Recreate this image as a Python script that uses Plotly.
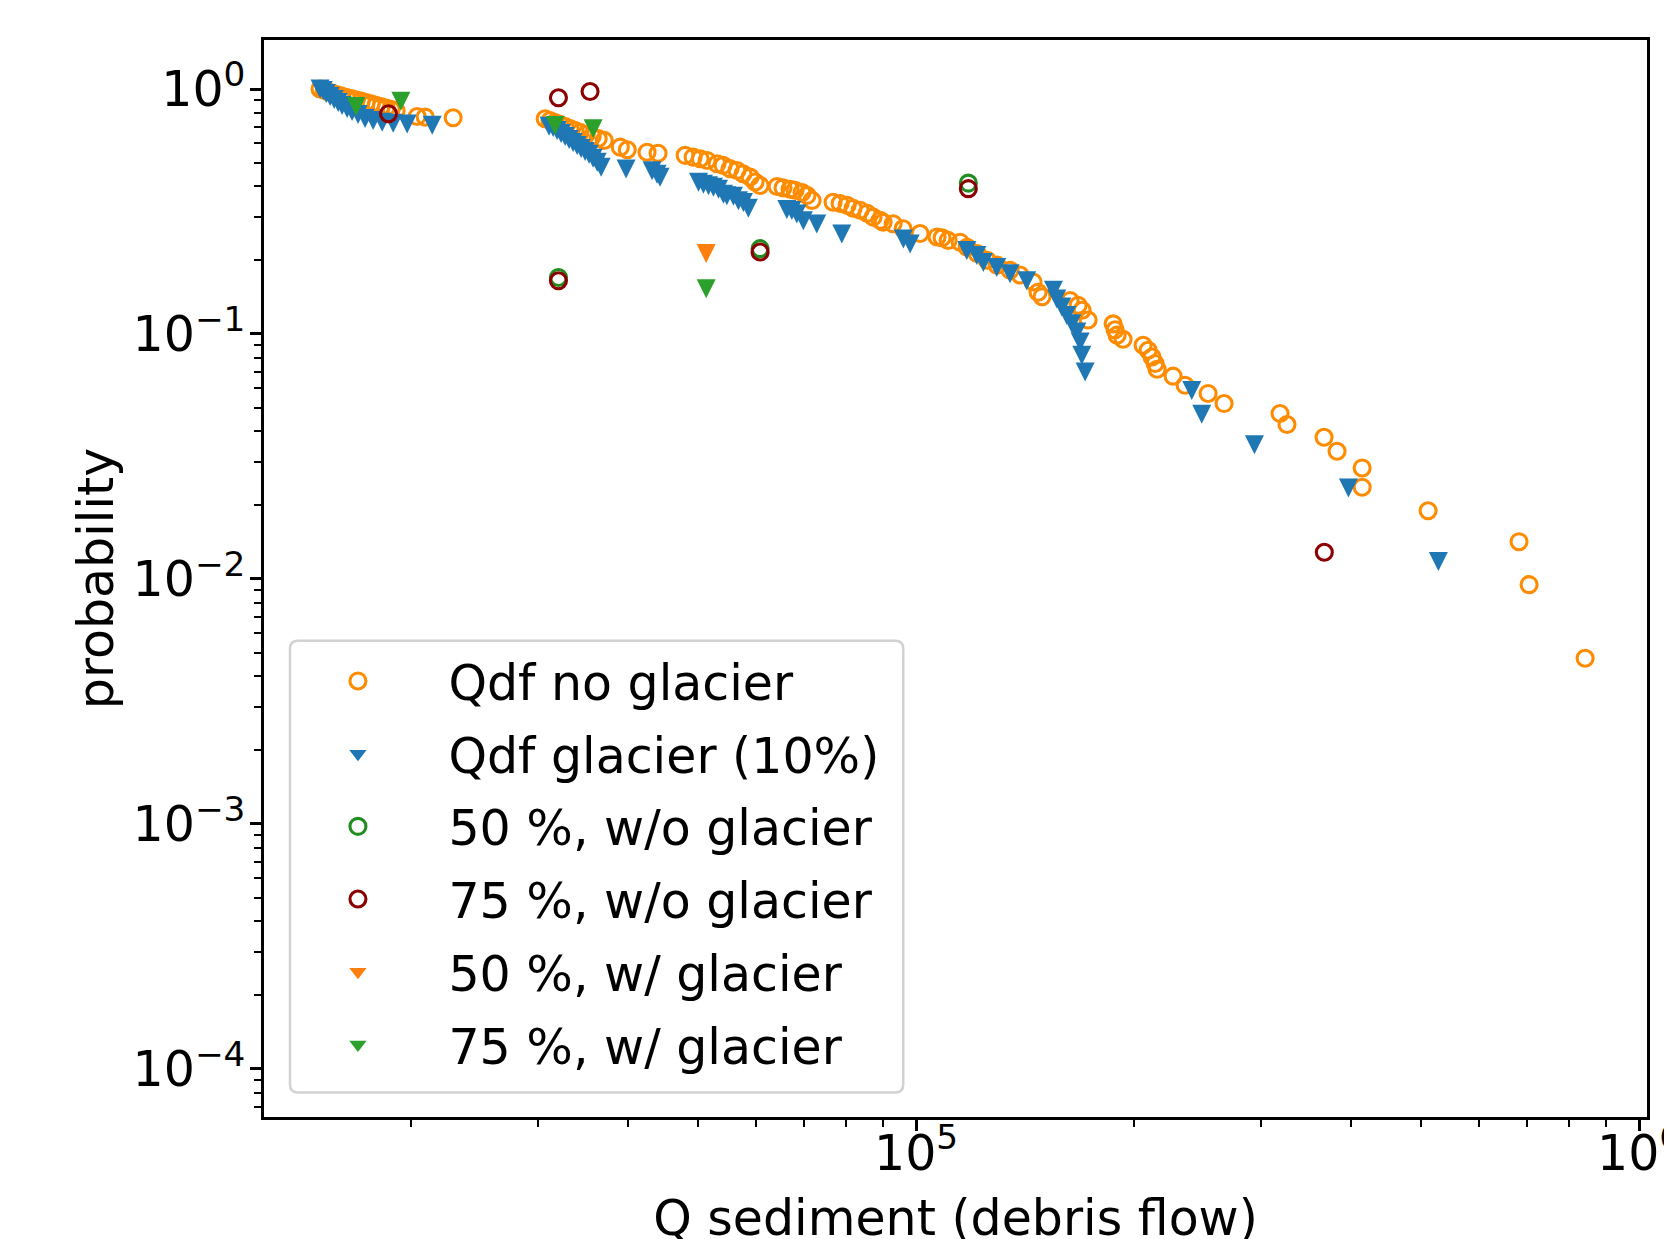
import plotly.graph_objects as go

# ---------------- data ----------------
# Qdf no glacier (orange open circles)
noglac_q = [14980, 15180, 15370, 15570, 15770, 16020, 16280, 16540, 16800, 17080,
            17350, 17630, 17910, 18200, 18490, 18790, 19090, 20410, 20940, 22890,
            30680, 31170, 31670, 32180, 32700, 33220, 33760, 34300, 34960, 35640,
            36330, 37030, 38980, 39860, 42450, 43960, 47920, 49160, 50270, 51400,
            53050, 54080, 55290, 56530, 57630, 58930, 59880, 60840, 64220, 65460,
            66940, 68010, 69540, 70660, 71800, 76770, 78500, 80270, 81820, 83680,
            85550, 87200, 89170, 90030, 92940, 95940, 101280, 106910, 108630, 110740,
            115050, 117640, 121450, 125390, 129420, 134900, 139270, 145150, 147480, 149380,
            163310, 167530, 169670, 172950, 187300, 188470, 189670, 193330, 206060, 209360,
            212030, 214100, 215440, 226710, 235530, 253470, 266690, 318740, 325870, 366680,
            382180, 413990, 414000, 510760, 682340, 704550, 842180]
noglac_p = [1.000, 0.990, 0.975, 0.962, 0.950, 0.937, 0.926, 0.915, 0.904, 0.892,
            0.881, 0.870, 0.858, 0.847, 0.837, 0.826, 0.815, 0.772, 0.768, 0.763,
            0.756, 0.744, 0.730, 0.717, 0.703, 0.690, 0.677, 0.665, 0.652, 0.640,
            0.628, 0.617, 0.579, 0.565, 0.552, 0.547, 0.536, 0.527, 0.519, 0.511,
            0.495, 0.488, 0.473, 0.465, 0.451, 0.437, 0.417, 0.404, 0.400, 0.395,
            0.390, 0.386, 0.378, 0.368, 0.351, 0.345, 0.341, 0.335, 0.326, 0.320,
            0.311, 0.300, 0.291, 0.286, 0.282, 0.269, 0.257, 0.249, 0.247, 0.241,
            0.237, 0.226, 0.213, 0.200, 0.191, 0.182, 0.174, 0.163, 0.148, 0.142,
            0.137, 0.131, 0.125, 0.114, 0.110, 0.104, 0.0989, 0.0952, 0.0900, 0.0858,
            0.0806, 0.0758, 0.0718, 0.0673, 0.0618, 0.0572, 0.0520, 0.0474, 0.0427, 0.0379,
            0.0332, 0.0284, 0.0237, 0.0190, 0.0142, 0.00948, 0.00475]

# Qdf glacier (10%) (blue filled triangles)
glac_q = [14980, 15130, 15280, 15470, 15670, 15870, 16070, 16330, 16590, 16910,
          17290, 17740, 18260, 18910, 19770, 21410,
          31070, 31470, 31870, 32280, 32700, 33120, 33540, 33970, 34410, 34850,
          35290, 35750, 36210, 36670, 39700, 43130, 43820, 44240,
          50000, 50800, 51620, 52440, 53290, 54140, 54730, 55890, 56790, 57700,
          58610, 66250, 67310, 68390, 69830, 72880, 78930,
          96030, 98110, 117520, 121340, 123910, 129300, 134900, 142230, 154860, 156540,
          159060, 161610, 164230, 166860, 168600, 169530, 171320, 240580, 248400, 293760,
          396280, 527740]
glac_p = [1.000, 0.986, 0.959, 0.932, 0.906, 0.881, 0.857, 0.833, 0.810, 0.787,
          0.758, 0.744, 0.732, 0.725, 0.719, 0.712,
          0.705, 0.697, 0.677, 0.658, 0.640, 0.622, 0.605, 0.588, 0.572, 0.556,
          0.541, 0.521, 0.502, 0.479, 0.471, 0.464, 0.449, 0.436,
          0.416, 0.409, 0.403, 0.397, 0.390, 0.372, 0.367, 0.365, 0.350, 0.344,
          0.326, 0.322, 0.319, 0.309, 0.290, 0.281, 0.256,
          0.244, 0.233, 0.219, 0.209, 0.196, 0.187, 0.176, 0.165, 0.151, 0.139,
          0.129, 0.119, 0.110, 0.102, 0.0928, 0.0819, 0.0700, 0.0588, 0.0470, 0.0353,
          0.0235, 0.0118]

# 50 %, w/o glacier (green open circles)
p50_noglac_q = [32010, 60840, 118100]
p50_noglac_p = [0.170, 0.223, 0.413]

# 75 %, w/o glacier (dark red open circles)
p75_noglac_q = [18630, 32010, 35400, 32010, 60840, 118100, 367000]
p75_noglac_p = [0.792, 0.921, 0.977, 0.165, 0.216, 0.392, 0.01285]

# 50 %, w/ glacier (orange filled triangle)
p50_glac_q = [51240]
p50_glac_p = [0.213]

# 75 %, w/ glacier (green filled triangles)
p75_glac_q = [16800, 19380, 31670, 35750, 51240]
p75_glac_p = [0.848, 0.892, 0.710, 0.688, 0.153]

x_tick_vals = [1e5, 1e6]
x_tick_text = ["10<sup>5</sup>", "10<sup>6</sup>"]
y_tick_vals = [1e-4, 1e-3, 1e-2, 1e-1, 1e0]
y_tick_text = ["10<sup>\u22124</sup>", "10<sup>\u22123</sup>", "10<sup>\u22122</sup>",
               "10<sup>\u22121</sup>", "10<sup>0</sup>"]

# ---------------- figure ----------------
FONT = "DejaVu Sans"
FS = 49
CIRC = 16
CLW = 3.1
TRI = 19
PAD = "\u2002"   # visual gap between legend symbol and label (matplotlib-like)

fig = go.Figure()

def circles(x, y, name, color, grp):
    fig.add_trace(go.Scatter(
        x=x, y=y, mode="markers", name=PAD + name, legendgroup=grp,
        marker=dict(symbol="circle-open", size=CIRC, color=color,
                    line=dict(width=CLW, color=color))))

def triangles(x, y, name, color, grp):
    # legend entry (plain down-triangle, centred in the legend row)
    fig.add_trace(go.Scatter(
        x=[None], y=[None], mode="markers", name=PAD + name, legendgroup=grp,
        hoverinfo="skip",
        marker=dict(symbol="triangle-down", size=15, color=color, line=dict(width=0))))
    # data: isosceles down-pointing triangle (as tall as wide), centred on the point
    fig.add_trace(go.Scatter(
        x=x, y=y, mode="markers", name=PAD + name, legendgroup=grp, showlegend=False,
        marker=dict(symbol="arrow-down", size=TRI, standoff=TRI / 2, color=color,
                    line=dict(width=0))))

circles(noglac_q, noglac_p, "Qdf no glacier", "#ff8c00", "g1")
triangles(glac_q, glac_p, "Qdf glacier (10%)", "#1f77b4", "g2")
circles(p50_noglac_q, p50_noglac_p, "50 %, w/o glacier", "#228b22", "g3")
circles(p75_noglac_q, p75_noglac_p, "75 %, w/o glacier", "#8b0000", "g4")
triangles(p50_glac_q, p50_glac_p, "50 %, w/ glacier", "#ff7f0e", "g5")
triangles(p75_glac_q, p75_glac_p, "75 %, w/ glacier", "#2ca02c", "g6")

x_minor = [m * 10 ** e for e in (4, 5) for m in range(2, 10)]
y_minor = [m * 10 ** e for e in (-5, -4, -3, -2, -1) for m in range(2, 10)]
y_minor = [v for v in y_minor if v > 6.4e-5]

axis_common = dict(
    type="log", showgrid=False, zeroline=False,
    showline=True, linecolor="black", linewidth=2.5, mirror=True,
    ticks="outside", ticklen=11, tickwidth=2.5, tickcolor="black",
    tickfont=dict(family=FONT, size=FS, color="black"),
    automargin=False, ticklabeloverflow="allow",
)

# legend frame (rounded box, drawn as a layout decoration)
lx0, lx1, ly0, ly1 = 0.0188, 0.4622, 0.0227, 0.4421
rx, ry = 0.0058, 0.0074
frame_path = (f"M {lx0+rx},{ly1} L {lx1-rx},{ly1} Q {lx1},{ly1} {lx1},{ly1-ry} "
              f"L {lx1},{ly0+ry} Q {lx1},{ly0} {lx1-rx},{ly0} "
              f"L {lx0+rx},{ly0} Q {lx0},{ly0} {lx0},{ly0+ry} "
              f"L {lx0},{ly1-ry} Q {lx0},{ly1} {lx0+rx},{ly1} Z")

fig.update_layout(
    width=1672, height=1239,
    margin=dict(l=256, r=33, t=32, b=129.5, pad=0),
    paper_bgcolor="white", plot_bgcolor="white",
    font=dict(family=FONT, size=FS, color="black"),
    xaxis=dict(
        **axis_common,
        range=[4.098, 6.011],
        tickvals=x_tick_vals, ticktext=x_tick_text,
        ticklabelstandoff=-20,
        minor=dict(tickvals=x_minor, ticks="outside", ticklen=7, tickwidth=2,
                   tickcolor="black", showgrid=False),
        title=dict(text="Q sediment (debris flow)", standoff=24,
                   font=dict(family=FONT, size=FS, color="black")),
    ),
    yaxis=dict(
        **axis_common,
        range=[-4.196, 0.2],
        tickvals=y_tick_vals, ticktext=y_tick_text,
        ticklabelstandoff=-5,
        minor=dict(tickvals=y_minor, ticks="outside", ticklen=7, tickwidth=2,
                   tickcolor="black", showgrid=False),
        title=dict(text="probability", standoff=4,
                   font=dict(family=FONT, size=FS, color="black")),
    ),
    shapes=[dict(type="path", xref="paper", yref="paper", path=frame_path,
                 line=dict(color="#d2d2d2", width=2.5),
                 fillcolor="rgba(255,255,255,0.8)", layer="above")],
    showlegend=True,
    legend=dict(
        x=0.0202, y=0.4405, xanchor="left", yanchor="top",
        bgcolor="rgba(0,0,0,0)", borderwidth=0,
        font=dict(family=FONT, size=FS, color="black"),
        itemwidth=122, tracegroupgap=6, traceorder="grouped",
    ),
)

fig.write_html("out.html")
